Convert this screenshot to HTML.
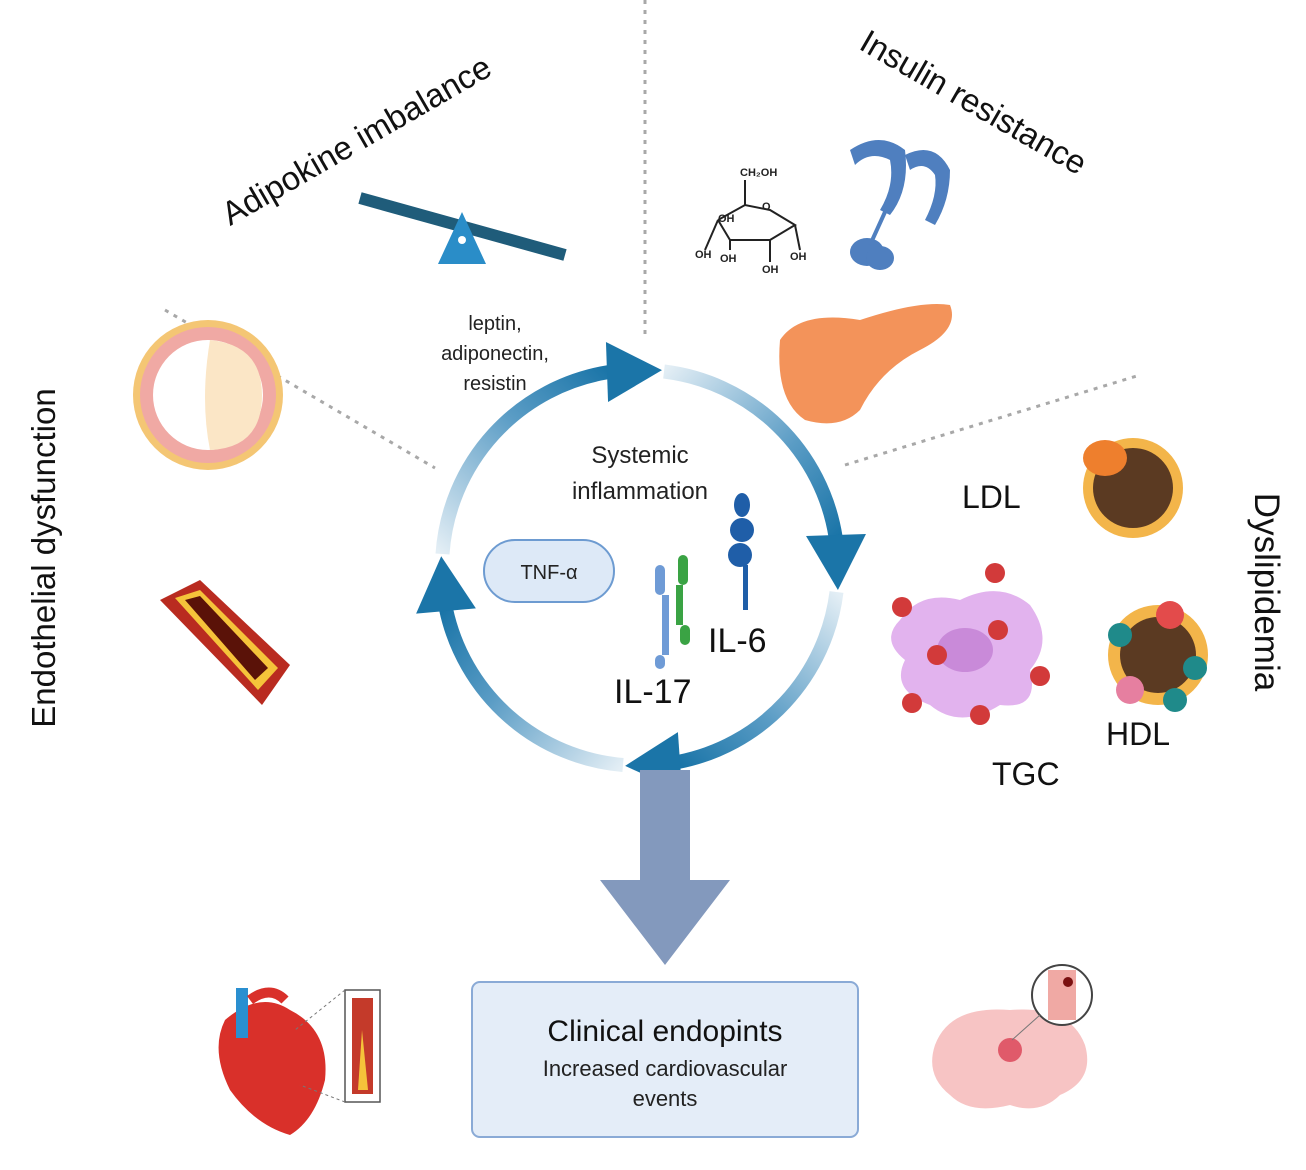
<!DOCTYPE html>
<html><head><meta charset="utf-8"><style>
html,body{margin:0;padding:0;background:#fff;}
svg{display:block;font-family:"Liberation Sans",Arial,sans-serif;}
</style></head><body>
<svg width="1306" height="1170" viewBox="0 0 1306 1170" xmlns="http://www.w3.org/2000/svg">
<defs>
<linearGradient id="g1" gradientUnits="userSpaceOnUse" x1="664" y1="371" x2="836" y2="537"><stop offset="0" stop-color="#e3eef5"/><stop offset="0.6" stop-color="#5a9cc5"/><stop offset="1" stop-color="#1b75a8"/></linearGradient>
<linearGradient id="g2" gradientUnits="userSpaceOnUse" x1="836" y1="592" x2="678" y2="762"><stop offset="0" stop-color="#e3eef5"/><stop offset="0.6" stop-color="#5a9cc5"/><stop offset="1" stop-color="#1b75a8"/></linearGradient>
<linearGradient id="g3" gradientUnits="userSpaceOnUse" x1="623" y1="765" x2="446" y2="609"><stop offset="0" stop-color="#e3eef5"/><stop offset="0.6" stop-color="#5a9cc5"/><stop offset="1" stop-color="#1b75a8"/></linearGradient>
<linearGradient id="g4" gradientUnits="userSpaceOnUse" x1="442" y1="554" x2="609" y2="372"><stop offset="0" stop-color="#e3eef5"/><stop offset="0.6" stop-color="#5a9cc5"/><stop offset="1" stop-color="#1b75a8"/></linearGradient>
</defs>

<g stroke="#a8a8a8" stroke-width="3" stroke-dasharray="4,6" fill="none">
<line x1="645" y1="0" x2="645" y2="340"/>
<line x1="165" y1="310" x2="435" y2="468"/>
<line x1="845" y1="465" x2="1140" y2="375"/>
</g>

<text x="362" y="150" font-size="33" text-anchor="middle" transform="rotate(-30 362 150)" fill="#111">Adipokine imbalance</text>
<text x="968" y="112" font-size="33" text-anchor="middle" transform="rotate(30 968 112)" fill="#111">Insulin resistance</text>
<text x="55" y="558" font-size="33" text-anchor="middle" transform="rotate(-90 55 558)" fill="#111">Endothelial dysfunction</text>
<text x="1255" y="592" font-size="35" text-anchor="middle" transform="rotate(90 1255 592)" fill="#111">Dyslipidemia</text>

<line x1="360" y1="198" x2="565" y2="255" stroke="#1f5c7a" stroke-width="12"/>
<polygon points="462,212 438,264 486,264" fill="#2a8dc8"/>
<circle cx="462" cy="240" r="4" fill="#fff"/>

<text x="495" y="330" font-size="20" text-anchor="middle" fill="#222">leptin,</text>
<text x="495" y="360" font-size="20" text-anchor="middle" fill="#222">adiponectin,</text>
<text x="495" y="390" font-size="20" text-anchor="middle" fill="#222">resistin</text>

<g stroke="#222" stroke-width="2" fill="none">
<polyline points="718,220 745,205 770,210 795,225 770,240 730,240 718,220"/>
<line x1="745" y1="205" x2="745" y2="180"/>
<line x1="718" y1="220" x2="705" y2="250"/>
<line x1="730" y1="240" x2="730" y2="250"/>
<line x1="770" y1="240" x2="770" y2="262"/>
<line x1="795" y1="225" x2="800" y2="250"/>
</g>
<g font-size="11" font-weight="bold" fill="#222">
<text x="740" y="176">CH₂OH</text><text x="762" y="210">O</text>
<text x="718" y="222">OH</text><text x="695" y="258">OH</text>
<text x="720" y="262">OH</text><text x="762" y="273">OH</text><text x="790" y="260">OH</text>
</g>

<g fill="#4f7fbf">
<path d="M850 150 Q880 130 905 150 Q910 190 890 215 L880 210 Q895 185 890 160 Q870 150 855 165 Z"/>
<path d="M905 155 Q935 140 950 170 Q950 200 935 225 L925 220 Q938 195 935 175 Q925 160 910 170 Z"/>
<ellipse cx="867" cy="252" rx="17" ry="14"/><ellipse cx="880" cy="258" rx="14" ry="12"/>
</g>
<line x1="885" y1="212" x2="870" y2="245" stroke="#4f7fbf" stroke-width="4"/>

<path d="M780 340 Q800 310 860 320 Q920 300 950 305 Q960 330 920 350 Q880 370 860 410 Q840 430 805 420 Q775 400 780 340 Z" fill="#f3935a"/>

<circle cx="208" cy="395" r="75" fill="#f4c674"/>
<circle cx="208" cy="395" r="68" fill="#f0a9a4"/>
<circle cx="208" cy="395" r="55" fill="#fff"/>
<path d="M210 340 Q262 345 262 395 Q262 448 210 450 Q200 400 210 340 Z" fill="#fbe6c6"/>

<path d="M160 600 L200 580 L290 665 L262 705 Z" fill="#b92b20"/>
<path d="M175 598 L200 590 L278 668 L258 690 Z" fill="#f5c33a"/>
<path d="M185 600 L200 596 L268 668 L255 680 Z" fill="#5a1208"/>

<g fill="none" stroke-width="14">
<path d="M664 371.5 A198 198 0 0 1 835.6 537" stroke="url(#g1)"/>
<path d="M836.5 592 A198 198 0 0 1 678 762" stroke="url(#g2)"/>
<path d="M623 765 A198 198 0 0 1 446 609" stroke="url(#g3)"/>
<path d="M442.5 554 A198 198 0 0 1 609 372" stroke="url(#g4)"/>
</g>
<g fill="#1b75a8">
<polygon points="0,-30 0,30 55,0" transform="translate(607 372) rotate(-2)"/>
<polygon points="0,-30 0,30 55,0" transform="translate(836 535) rotate(88)"/>
<polygon points="0,-30 0,30 55,0" transform="translate(680 762) rotate(176)"/>
<polygon points="0,-30 0,30 55,0" transform="translate(446 611) rotate(265)"/>
</g>

<text x="640" y="463" font-size="24" text-anchor="middle" fill="#222">Systemic</text>
<text x="640" y="499" font-size="24" text-anchor="middle" fill="#222">inflammation</text>

<rect x="484" y="540" width="130" height="62" rx="31" fill="#dde9f7" stroke="#6d9bd1" stroke-width="2"/>
<text x="549" y="579" font-size="20" text-anchor="middle" fill="#222">TNF-α</text>

<g fill="#1f5ea8">
<ellipse cx="742" cy="505" rx="8" ry="12"/>
<ellipse cx="742" cy="530" rx="12" ry="12"/>
<ellipse cx="740" cy="555" rx="12" ry="12"/>
<rect x="743" y="565" width="5" height="45"/>
</g>
<g fill="#6f9bd6"><rect x="655" y="565" width="10" height="30" rx="5"/><rect x="662" y="595" width="7" height="60"/><rect x="655" y="655" width="10" height="14" rx="5"/></g>
<g fill="#3aa344"><rect x="678" y="555" width="10" height="30" rx="5"/><rect x="676" y="585" width="7" height="40"/><rect x="680" y="625" width="10" height="20" rx="5"/></g>
<text x="708" y="652" font-size="34" fill="#111">IL-6</text>
<text x="614" y="703" font-size="34" fill="#111">IL-17</text>

<text x="962" y="508" font-size="32" fill="#111">LDL</text>
<text x="992" y="785" font-size="32" fill="#111">TGC</text>
<text x="1106" y="745" font-size="32" fill="#111">HDL</text>
<circle cx="1133" cy="488" r="50" fill="#f3b54a"/>
<circle cx="1133" cy="488" r="40" fill="#5b3a22"/>
<ellipse cx="1105" cy="458" rx="22" ry="18" fill="#ee7f2d"/>
<circle cx="1158" cy="655" r="50" fill="#f3b54a"/>
<circle cx="1158" cy="655" r="38" fill="#5b3a22"/>
<circle cx="1120" cy="635" r="12" fill="#1f8a8a"/>
<circle cx="1170" cy="615" r="14" fill="#e34b4b"/>
<circle cx="1195" cy="668" r="12" fill="#1f8a8a"/>
<circle cx="1130" cy="690" r="14" fill="#e67fa0"/>
<circle cx="1175" cy="700" r="12" fill="#1f8a8a"/>
<path d="M900 620 Q920 590 960 600 Q1000 580 1030 605 Q1055 640 1030 670 Q1040 710 1000 705 Q960 730 930 705 Q890 690 905 660 Q880 640 900 620 Z" fill="#e2b3ee"/>
<ellipse cx="965" cy="650" rx="28" ry="22" fill="#c98ad9"/>
<g fill="#d23a3a">
<circle cx="995" cy="573" r="10"/><circle cx="902" cy="607" r="10"/><circle cx="998" cy="630" r="10"/>
<circle cx="937" cy="655" r="10"/><circle cx="1040" cy="676" r="10"/><circle cx="912" cy="703" r="10"/><circle cx="980" cy="715" r="10"/>
</g>

<polygon points="640,770 690,770 690,880 730,880 665,965 600,880 640,880" fill="#8399bd"/>

<rect x="472" y="982" width="386" height="155" rx="8" fill="#e4edf8" stroke="#8aaad6" stroke-width="2"/>
<text x="665" y="1041" font-size="30" text-anchor="middle" fill="#111">Clinical endopints</text>
<text x="665" y="1076" font-size="22" text-anchor="middle" fill="#222">Increased cardiovascular</text>
<text x="665" y="1106" font-size="22" text-anchor="middle" fill="#222">events</text>

<path d="M225 1020 Q260 990 290 1010 Q330 1030 325 1080 Q315 1120 290 1135 Q255 1125 230 1090 Q210 1050 225 1020 Z" fill="#d9302a"/>
<rect x="236" y="988" width="12" height="50" fill="#2a8fd0"/>
<path d="M250 1000 Q270 985 285 1000" stroke="#d9302a" stroke-width="10" fill="none"/>
<rect x="345" y="990" width="35" height="112" fill="#fff" stroke="#555" stroke-width="1.5"/>
<rect x="352" y="998" width="21" height="96" fill="#c43a2a"/>
<path d="M362 1030 L358 1090 L368 1090 Z" fill="#f5c33a"/>
<line x1="345" y1="990" x2="295" y2="1030" stroke="#777" stroke-dasharray="3,3"/>
<line x1="345" y1="1102" x2="300" y2="1085" stroke="#777" stroke-dasharray="3,3"/>

<path d="M935 1045 Q950 1005 1010 1010 Q1070 1005 1085 1045 Q1095 1080 1060 1095 Q1040 1115 1010 1105 Q970 1115 950 1095 Q925 1075 935 1045 Z" fill="#f7c4c4"/>
<circle cx="1010" cy="1050" r="12" fill="#e05a6a"/>
<circle cx="1062" cy="995" r="30" fill="#fff" stroke="#444" stroke-width="2"/>
<rect x="1048" y="970" width="28" height="50" fill="#f0a9a4"/>
<circle cx="1068" cy="982" r="5" fill="#7a1010"/>
<line x1="1012" y1="1040" x2="1040" y2="1015" stroke="#777"/>
</svg>
</body></html>
